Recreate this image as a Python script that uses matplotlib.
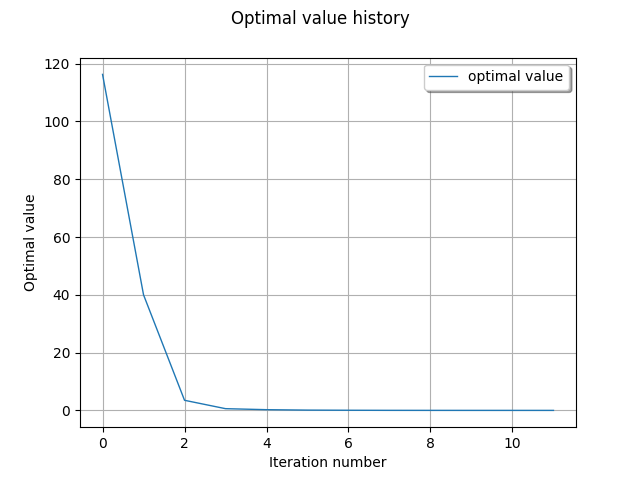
import matplotlib
matplotlib.use("Agg")
import matplotlib.pyplot as plt

iterations = [0, 1, 2, 3, 4, 5, 6, 7, 8, 9, 10, 11]
optimal_values = [116.3, 40.0, 3.5, 0.6, 0.25, 0.1, 0.05, 0.02, 0.01, 0.005, 0.002, 0.001]

fig = plt.figure(figsize=(6.4, 4.8), dpi=100)
ax = fig.add_subplot(111)
fig.suptitle("Optimal value history")
ax.plot(iterations, optimal_values, linewidth=1, label="optimal value")
ax.set_xlabel("Iteration number")
ax.set_ylabel("Optimal value")
ax.grid(True)
ax.legend(loc="upper right", shadow=True)
fig.savefig("out.png")
